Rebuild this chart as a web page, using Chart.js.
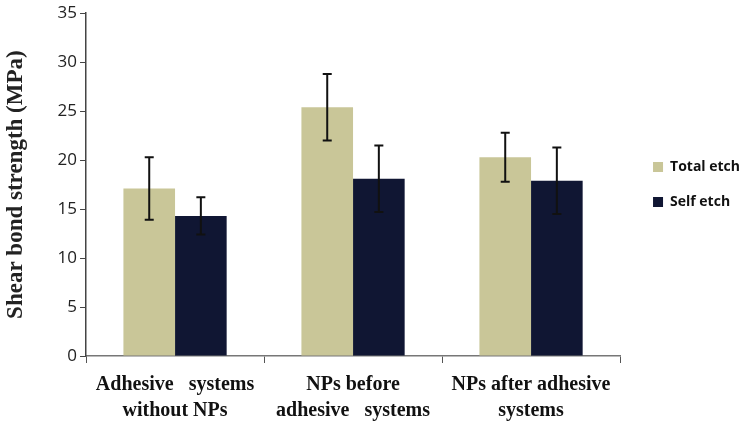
<!DOCTYPE html>
<html>
<head>
<meta charset="utf-8">
<script src="https://cdn.jsdelivr.net/npm/chart.js@4/dist/chart.umd.min.js"></script>
<style>
  body { margin: 0; background: #fff; }
  #wrap { width: 750px; height: 426px; }
</style>
</head>
<body>
<div id="wrap"><canvas id="chart"></canvas></div>
<script>
  categories = [['Adhesive   systems', 'without NPs'], ['NPs before', 'adhesive   systems'], ['NPs after adhesive', 'systems']]
  totalEtch = [17.1, 25.4, 20.3]
  selfEtch = [14.3, 18.1, 17.9]
  totalErr = [3.2, 3.4, 2.5]
  selfErr = [1.9, 3.4, 3.4]
  yTicks = [0, 5, 10, 15, 20, 25, 30, 35]

  const errorBars = {
    id: 'errorBars',
    afterDatasetsDraw: (chart) => {
      const { ctx, scales: { y } } = chart;
      chart.data.datasets.forEach((ds, di) => {
        const meta = chart.getDatasetMeta(di);
        meta.data.forEach((bar, i) => {
          const v = ds.data[i];
          const e = ds.err[i];
          const top = y.getPixelForValue(v + e);
          const bot = y.getPixelForValue(v - e);
          ctx.save();
          ctx.strokeStyle = '#111';
          ctx.lineWidth = 2;
          ctx.beginPath();
          ctx.moveTo(bar.x, top);
          ctx.lineTo(bar.x, bot);
          ctx.moveTo(bar.x - 4.5, top);
          ctx.lineTo(bar.x + 4.5, top);
          ctx.moveTo(bar.x - 4.5, bot);
          ctx.lineTo(bar.x + 4.5, bot);
          ctx.stroke();
          ctx.restore();
        });
      });
    }
  };

  // widen the legend box a bit and push its items right
  const legendGap = {
    id: 'legendGap',
    beforeLayout: (chart) => {
      const lg = chart.legend;
      if (lg && !lg._wide) {
        const fit = lg.fit;
        lg.fit = function () { fit.call(this); this.width += 12; };
        lg._wide = true;
      }
    },
    afterLayout: (chart) => {
      chart.legend.left += 12;
    }
  };

  var chart = new Chart('chart', {
    type: 'bar',
    data: {
      labels: categories,
      datasets: [
        { label: 'Total etch', data: totalEtch, err: totalErr, backgroundColor: '#c9c698', borderWidth: 0 },
        { label: 'Self etch', data: selfEtch, err: selfErr, backgroundColor: '#101633', borderWidth: 0 }
      ]
    },
    options: {
      responsive: true,
      maintainAspectRatio: false,
      animation: false,
      layout: { padding: { top: 6, left: 2, bottom: -7, right: 0 } },
      datasets: { bar: { categoryPercentage: 0.58, barPercentage: 1 } },
      scales: {
        x: {
          grid: { display: true, drawOnChartArea: false, color: '#555', tickLength: 7, tickColor: '#555' },
          border: { display: true, color: '#777', width: 1.5 },
          ticks: {
            color: '#111',
            padding: 9,
            maxRotation: 0,
            font: { family: '"Liberation Serif", "Times New Roman", serif', size: 20, weight: 'bold', lineHeight: 1.3 }
          }
        },
        y: {
          min: 0,
          max: 35,
          afterBuildTicks: (axis) => { axis.ticks = yTicks.map(v => ({ value: v })); },
          grid: { display: true, drawOnChartArea: false, color: '#444', tickLength: 6, tickColor: '#444' },
          border: { display: true, color: '#444', width: 1.5 },
          ticks: {
            color: '#222',
            padding: 3,
            font: { family: '"Open Sans", "Liberation Sans", sans-serif', size: 17 }
          },
          title: {
            display: true,
            text: 'Shear bond strength (MPa)',
            color: '#222',
            padding: { top: 0, bottom: 25 },
            font: { family: '"Liberation Serif", "Times New Roman", serif', size: 23, weight: 'bold' }
          }
        }
      },
      plugins: {
        legend: {
          position: 'right',
          fullSize: false,
          labels: {
            boxWidth: 10,
            boxHeight: 10,
            padding: 21,
            color: '#111',
            font: { family: '"Open Sans", "Liberation Sans", sans-serif', size: 14, weight: 'bold' }
          }
        },
        tooltip: { enabled: false }
      }
    },
    plugins: [errorBars, legendGap]
  });
</script>
</body>
</html>
